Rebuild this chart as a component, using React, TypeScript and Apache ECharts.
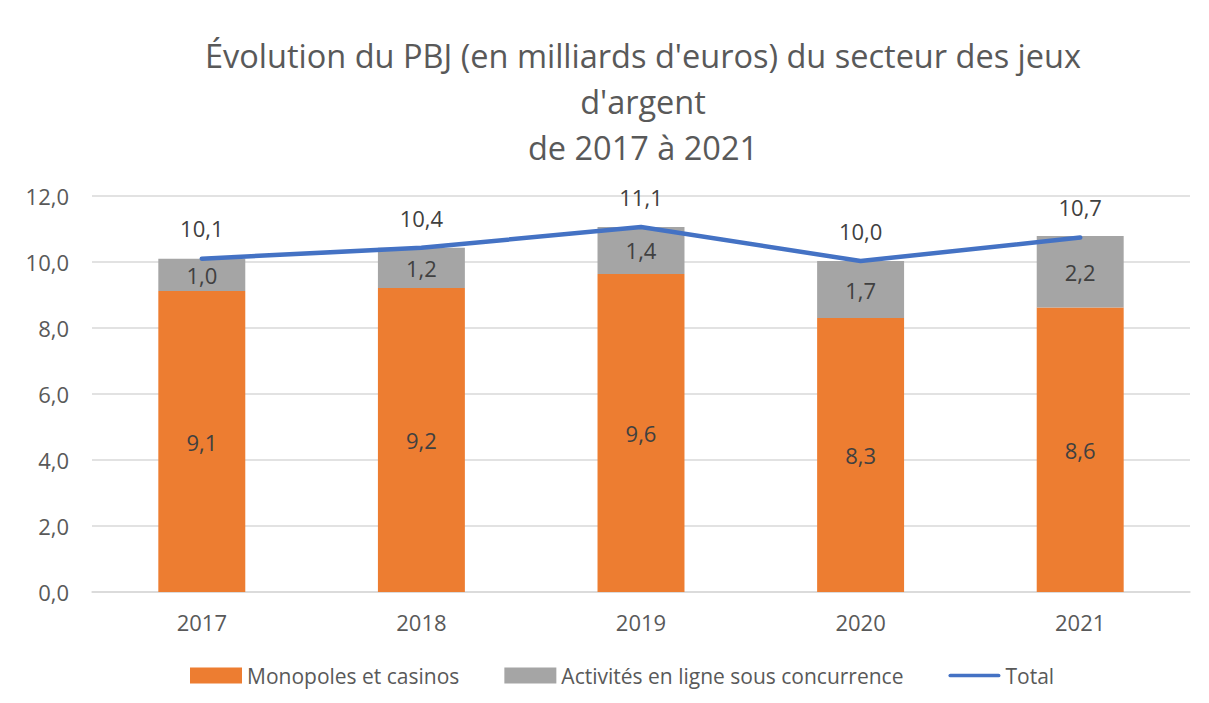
import React, { useEffect, useRef } from "react";
import * as echarts from "echarts";

const years = ["2017", "2018", "2019", "2020", "2021"];
const monopoles = [9.12, 9.21, 9.64, 8.3, 8.62];
const enLigne = [0.98, 1.22, 1.42, 1.73, 2.17];
const totals = [10.1, 10.43, 11.06, 10.03, 10.74];

const titleText = "Évolution du PBJ (en milliards d'euros) du secteur des jeux\nd'argent\nde 2017 à 2021";
const FONT = "'Open Sans', 'Noto Sans', sans-serif";
const fmt = (v: number) => v.toFixed(1).replace(".", ",");

export default function App() {
  const ref = useRef<HTMLDivElement>(null);
  useEffect(() => {
    document.body.style.margin = "0";
    const chart = echarts.init(ref.current!, null, { renderer: "svg" });
    chart.setOption({
      animation: false,
      backgroundColor: "#ffffff",
      textStyle: { fontFamily: FONT },
      title: {
        text: titleText,
        left: 638,
        textAlign: "center",
        top: 27,
        textStyle: { fontFamily: FONT, fontSize: 32.5, fontWeight: "normal", color: "#595959", lineHeight: 46 },
      },
      grid: { left: 92, right: 19, top: 196, bottom: 111, containLabel: false },
      legend: {
        bottom: 12,
        left: 185,
        itemGap: 45,
        itemWidth: 52,
        itemHeight: 16,
        textStyle: { fontFamily: FONT, fontSize: 21, color: "#595959" },
        data: [
          { name: "Monopoles et casinos", icon: "rect" },
          { name: "Activités en ligne sous concurrence", icon: "rect" },
          { name: "Total", icon: "path://M2,0 L54,0 A2,2 0 0 1 54,4 L2,4 A2,2 0 0 1 2,0 Z", itemStyle: { color: "#4472C4", opacity: 1 } },
        ],
      },
      xAxis: {
        type: "category",
        data: years,
        axisTick: { show: false },
        axisLine: { lineStyle: { color: "#D9D9D9", width: 1.5 } },
        axisLabel: { fontFamily: FONT, fontSize: 22, color: "#595959", margin: 19 },
      },
      yAxis: {
        type: "value",
        min: 0,
        max: 12,
        interval: 2,
        axisLabel: { fontFamily: FONT, fontSize: 22, color: "#595959", margin: 23, formatter: (v: number) => fmt(v) },
        splitLine: { lineStyle: { color: "#D9D9D9", width: 1.5 } },
        axisLine: { show: false },
        axisTick: { show: false },
      },
      series: [
        {
          name: "Monopoles et casinos",
          type: "bar",
          stack: "total",
          data: monopoles,
          barWidth: "39.6%",
          itemStyle: { color: "#ED7D31" },
          label: { show: true, position: "inside", fontFamily: FONT, fontSize: 22, color: "#404040", formatter: (p: any) => fmt(p.value) },
        },
        {
          name: "Activités en ligne sous concurrence",
          type: "bar",
          stack: "total",
          data: enLigne,
          barWidth: "39.6%",
          itemStyle: { color: "#A5A5A5" },
          label: { show: true, position: "inside", fontFamily: FONT, fontSize: 22, color: "#404040", formatter: (p: any) => fmt(p.value) },
        },
        {
          name: "Total",
          type: "line",
          data: totals,
          symbol: "circle",
          symbolSize: 0.5,
          showSymbol: true,
          lineStyle: { color: "#4472C4", width: 4.5, cap: "round", join: "round" },
          itemStyle: { color: "#4472C4" },
          label: { show: true, position: "top", distance: 19, fontFamily: FONT, fontSize: 22, color: "#404040", formatter: (p: any) => fmt(p.value) },
        },
      ],
    });
    return () => chart.dispose();
  }, []);
  return <div ref={ref} style={{ width: 1209, height: 703 }} />;
}
